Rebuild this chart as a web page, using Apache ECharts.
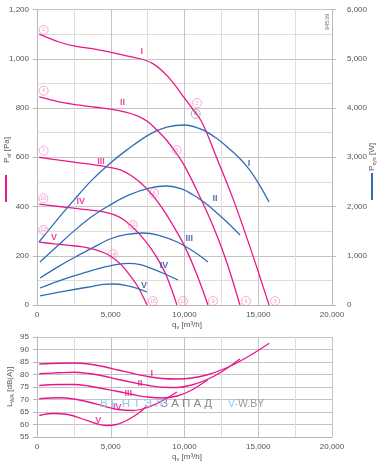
<!DOCTYPE html>
<html><head><meta charset="utf-8">
<script src="https://cdn.jsdelivr.net/npm/echarts@6/dist/echarts.min.js"></script>
<style>html,body{margin:0;padding:0;background:#fff}#c{width:388px;height:466px}</style>
</head><body><div id="c"></div>
<script>
// ---- pressure curves P_sf [Pa] (left axis, top chart)
const qPsfI   = [150,1500,2500,4000,5000,6000,7000,7800,8500,9200,9900,10500,11200,12200,13300,14500,15730];
const psfI    = [1100,1068,1052,1038,1026,1013,1000,982,950,905,848,800,740,595,430,225,0];
const qPsfII  = [150,1500,2500,4000,5000,6000,6800,7500,8100,8800,9400,10000,10800,11800,12800,13760];
const psfII   = [845,825,815,803,795,783,768,745,712,668,620,565,470,340,185,0];
const qPsfIII = [150,1500,2500,4000,5000,5800,6400,7000,7600,8200,8800,9400,10000,10800,11590];
const psfIII  = [600,588,580,568,558,545,525,497,462,418,365,305,240,130,0];
const qPsfIV  = [150,1500,2500,3500,4500,5300,5900,6500,7000,7600,8200,8800,9490];
const psfIV   = [410,400,393,386,378,365,345,315,285,240,185,115,0];
const qPsfV   = [150,1200,2200,3000,3600,4200,4800,5300,5800,6300,6800,7460];
const psfV    = [255,248,242,237,230,220,205,185,158,120,78,0];
// ---- power curves P_sys [W] (right axis, top chart)
const qPI   = [136,1500,2500,3700,5000,6100,7600,8800,10000,11200,12000,12900,13700,14400,15100,15730];
const pI    = [1279,1780,2130,2530,2890,3150,3460,3610,3655,3560,3420,3210,2990,2750,2430,2090];
const qPII  = [203,1500,2500,3700,4950,6200,7600,8800,9800,10600,11400,12200,13000,13763];
const pII   = [873,1230,1500,1790,2030,2230,2375,2416,2360,2233,2070,1868,1650,1421];
const qPIII = [203,1500,2500,3700,4950,6000,7200,8200,9500,10600,11593];
const pIII  = [548,790,960,1150,1340,1430,1462,1420,1279,1090,873];
const qPIV  = [203,1500,2500,3700,5000,6200,7000,7700,8600,9559];
const pIV   = [345,490,590,700,800,845,820,750,640,508];
const qPV   = [203,1500,2500,3700,4500,5200,6000,6800,7460];
const pV    = [183,260,315,375,418,426,400,340,264];
// ---- sound power L_WA [dB(A)] (bottom chart)
const qLI   = [150,1500,2500,3500,4500,5500,6500,7500,8500,9500,10500,11500,12500,13500,14500,15750];
const lI    = [84.2,84.5,84.6,84.2,83.2,81.8,80.4,79.2,78.4,78.2,78.6,79.8,81.8,84.5,87.8,92.5];
const qLII  = [150,1500,2500,3500,4500,5500,6500,7500,8500,9500,10500,11500,12500,13760];
const lII   = [80.3,80.7,80.9,80.4,79.4,78,76.8,75.7,74.9,74.8,75.8,77.9,81,86.2];
const qLIII = [150,1500,2500,3500,4500,5500,6500,7500,8500,9500,10500,11590];
const lIII  = [75.6,76,76,75.4,74.3,73.2,72,71,70.6,71.4,73.8,78];
const qLIV  = [150,1500,2500,3500,4500,5500,6500,7500,8500,9490];
const lIV   = [70.3,70.7,70.2,69,67.4,66,65.6,66.8,69.5,73];
const qLV   = [150,1000,2000,3000,4000,4700,5400,6200,6900,7460];
const lV    = [63.6,64.4,64.1,62.4,60.4,59.6,60,62,64.6,67.5];
// ---- tick labels
const xTicks = [0,5000,10000,15000,20000];
const psfTicks = [0,200,400,600,800,1000,1200];
const pTicks = [0,1000,2000,3000,4000,5000,6000];
const lTicks = [55,60,65,70,75,80,85,90,95];
// ---- annotations
const romans = ['I','II','III','IV','V'];
const psfLabelQ = [7100,5800,4340,2960,1150];
const psfLabelP = [1031,823,582,420,275];
const pLabelQ = [14370,12070,10330,8610,7250];
const pLabelW = [2877,2152,1340,798,386];
const lLabelQ = [7780,6980,6190,5440,4160];
const lLabelV = [80.5,76.5,72.5,66.9,61.5];
const ptNums = ['1','2','3','4','5','6','7','8','9','10','11','12','13','14','15'];
const ptQ = [450,10850,16140, 450,9470,14170, 450,7930,11930, 430,6490,9900, 430,5130,7860];
const ptP = [1117,820,16, 870,629,16, 627,454,16, 433,325,16, 305,207,16];

const MAG = '#e8178a', BLUE = '#2f6db5', NAVY = '#34469a', PINK = '#f27bb9';
const FONT = '"Liberation Sans Narrow","Liberation Sans",Arial,sans-serif';
const zip = (a, b) => a.map((v, i) => [v, b[i]]);
const fmt = v => v >= 1000 ? String(v).replace(/\B(?=(\d{3})+(?!\d))/g, ',') : String(v);

const chart = echarts.init(document.getElementById('c'), null, {renderer: 'canvas'});

const gridMajor = {show: true, lineStyle: {color: '#c4c4c4', width: 1}};
const gridMinor = {show: true, lineStyle: {color: '#dedede', width: 1}};
const lab = {fontSize: 8, color: '#555', fontFamily: FONT};

function xAxis(gi) {
  return {gridIndex: gi, type: 'value', min: 0, max: 20000, interval: 5000,
    axisLine: {show: true, lineStyle: {color: '#b8b8b8'}}, axisTick: {show: false},
    axisLabel: Object.assign({margin: 6, formatter: v => xTicks.includes(v) ? fmt(v) : ''}, lab),
    splitLine: gridMajor, minorTick: {show: false, splitNumber: 2}, minorSplitLine: gridMinor};
}

const lineS = (name, q, v, color, xi, yi) => ({
  name, type: 'line', xAxisIndex: xi, yAxisIndex: yi, data: zip(q, v), smooth: 0.35,
  showSymbol: false, symbol: 'none', lineStyle: {color, width: 1.3}, z: 3, silent: true
});
const textS = (q, v, texts, color, xi, yi, size) => ({
  type: 'scatter', xAxisIndex: xi, yAxisIndex: yi, symbolSize: 0, z: 5, silent: true,
  data: q.map((x, i) => [x, v[i], texts[i]]),
  label: {show: true, position: 'inside', formatter: p => p.data[2], color, fontSize: size,
    fontWeight: 'bold', fontFamily: FONT}
});

const series = [
  lineS('psfI', qPsfI, psfI, MAG, 0, 0), lineS('psfII', qPsfII, psfII, MAG, 0, 0),
  lineS('psfIII', qPsfIII, psfIII, MAG, 0, 0), lineS('psfIV', qPsfIV, psfIV, MAG, 0, 0),
  lineS('psfV', qPsfV, psfV, MAG, 0, 0),
  lineS('pI', qPI, pI, BLUE, 0, 1), lineS('pII', qPII, pII, BLUE, 0, 1),
  lineS('pIII', qPIII, pIII, BLUE, 0, 1), lineS('pIV', qPIV, pIV, BLUE, 0, 1),
  lineS('pV', qPV, pV, BLUE, 0, 1),
  lineS('lI', qLI, lI, MAG, 1, 2), lineS('lII', qLII, lII, MAG, 1, 2),
  lineS('lIII', qLIII, lIII, MAG, 1, 2), lineS('lIV', qLIV, lIV, MAG, 1, 2),
  lineS('lV', qLV, lV, MAG, 1, 2),
  textS(psfLabelQ, psfLabelP, romans, MAG, 0, 0, 9),
  textS(pLabelQ, pLabelW, romans, NAVY, 0, 1, 9),
  textS(lLabelQ, lLabelV, romans, MAG, 1, 2, 9),
  {type: 'scatter', xAxisIndex: 0, yAxisIndex: 0, symbol: 'circle', symbolSize: 9, z: 6, silent: true,
    data: ptQ.map((x, i) => [x, ptP[i], ptNums[i]]),
    itemStyle: {color: 'rgba(255,255,255,0)', borderColor: PINK, borderWidth: 0.8},
    label: {show: true, position: 'inside', formatter: p => p.data[2], color: PINK,
      fontSize: 5.5, fontFamily: FONT}},
  {type: 'scatter', xAxisIndex: 0, yAxisIndex: 0, symbol: 'circle', symbolSize: 9, z: 6, silent: true,
    data: [[10760, 776, 'B']],
    itemStyle: {color: 'rgba(255,255,255,0)', borderColor: '#888', borderWidth: 0.8},
    label: {show: true, position: 'inside', formatter: p => p.data[2], color: '#777', fontSize: 5.5, fontFamily: FONT}}
];

const sub = (main, s, tail, color) => ({
  text: '{a|' + main + '}{b|' + s + '}{a|' + tail + '}',
  rich: {a: {fontSize: 8, fill: color, fontFamily: FONT, lineHeight: 11},
         b: {fontSize: 5.5, fill: color, fontFamily: FONT, lineHeight: 6, verticalAlign: 'bottom'}}
});
const WM = '"Liberation Sans",Arial,sans-serif';

chart.setOption({
  animation: false,
  grid: [
    {left: 37, top: 9.5, width: 295, height: 295.5, containLabel: false},
    {left: 37, top: 337, width: 295, height: 100, containLabel: false}
  ],
  xAxis: [xAxis(0), xAxis(1)],
  yAxis: [
    {gridIndex: 0, type: 'value', position: 'left', min: 0, max: 1200, interval: 200,
      axisLine: {show: true, lineStyle: {color: '#b8b8b8'}},
      axisTick: {show: true, length: 4, lineStyle: {color: '#b8b8b8'}},
      axisLabel: Object.assign({margin: 8, formatter: v => psfTicks.includes(v) ? fmt(v) : ''}, lab),
      splitLine: gridMajor, minorTick: {show: false, splitNumber: 2}, minorSplitLine: gridMinor},
    {gridIndex: 0, type: 'value', position: 'right', min: 0, max: 6000, interval: 1000,
      axisLine: {show: true, lineStyle: {color: '#b8b8b8'}},
      axisTick: {show: true, length: 4, lineStyle: {color: '#b8b8b8'}},
      axisLabel: Object.assign({margin: 15, formatter: v => pTicks.includes(v) ? fmt(v) : ''}, lab),
      splitLine: {show: false}},
    {gridIndex: 1, type: 'value', position: 'left', min: 55, max: 95, interval: 5,
      axisLine: {show: true, lineStyle: {color: '#b8b8b8'}},
      axisTick: {show: true, length: 4, lineStyle: {color: '#b8b8b8'}},
      axisLabel: Object.assign({margin: 8, formatter: v => lTicks.includes(v) ? fmt(v) : ''}, lab),
      splitLine: gridMajor}
  ],
  series,
  graphic: [
    {type: 'text', x: 7, y: 150, rotation: Math.PI / 2,
      style: Object.assign({align: 'center', verticalAlign: 'middle'}, sub('P', 'sf', ' [Pa]', '#555'))},
    {type: 'rect', shape: {x: 5, y: 175, width: 2, height: 27}, style: {fill: MAG}},
    {type: 'text', x: 372, y: 157, rotation: Math.PI / 2,
      style: Object.assign({align: 'center', verticalAlign: 'middle'}, sub('P', 'sys', ' [W]', '#555'))},
    {type: 'rect', shape: {x: 371, y: 173, width: 2, height: 27}, style: {fill: BLUE}},
    {type: 'text', x: 10, y: 387, rotation: Math.PI / 2,
      style: Object.assign({align: 'center', verticalAlign: 'middle'}, sub('L', 'WA', ' [dB(A)]', '#555'))},
    {type: 'text', x: 187, y: 325,
      style: Object.assign({align: 'center', verticalAlign: 'middle'}, sub('q', 'v', ' [m³/h]', '#555'))},
    {type: 'text', x: 187, y: 457,
      style: Object.assign({align: 'center', verticalAlign: 'middle'}, sub('q', 'v', ' [m³/h]', '#555'))},
    {type: 'text', x: 327, y: 22, rotation: Math.PI / 2,
      style: {text: '94539', align: 'center', verticalAlign: 'middle', fontSize: 6, fill: '#777', fontFamily: FONT}},
    {type: 'text', x: 100, y: 404, z: 10,
      style: {text: 'В Е Н Т Э Л', align: 'left', verticalAlign: 'middle', fontSize: 11.5, fill: '#8fcaf0', fontFamily: WM}},
    {type: 'text', x: 161, y: 404, z: 10,
      style: {text: 'З А П А Д', align: 'left', verticalAlign: 'middle', fontSize: 11.5, fill: '#8a8a8a', fontFamily: WM}},
    {type: 'text', x: 228, y: 404, z: 10,
      style: {text: '{b|V-}{g|W.BY}', align: 'left', verticalAlign: 'middle',
        rich: {b: {fontSize: 10.5, fill: '#8fcaf0', fontFamily: WM},
               g: {fontSize: 10.5, fill: '#9a9a9a', fontFamily: WM}}}}
  ]
});
</script></body></html>
